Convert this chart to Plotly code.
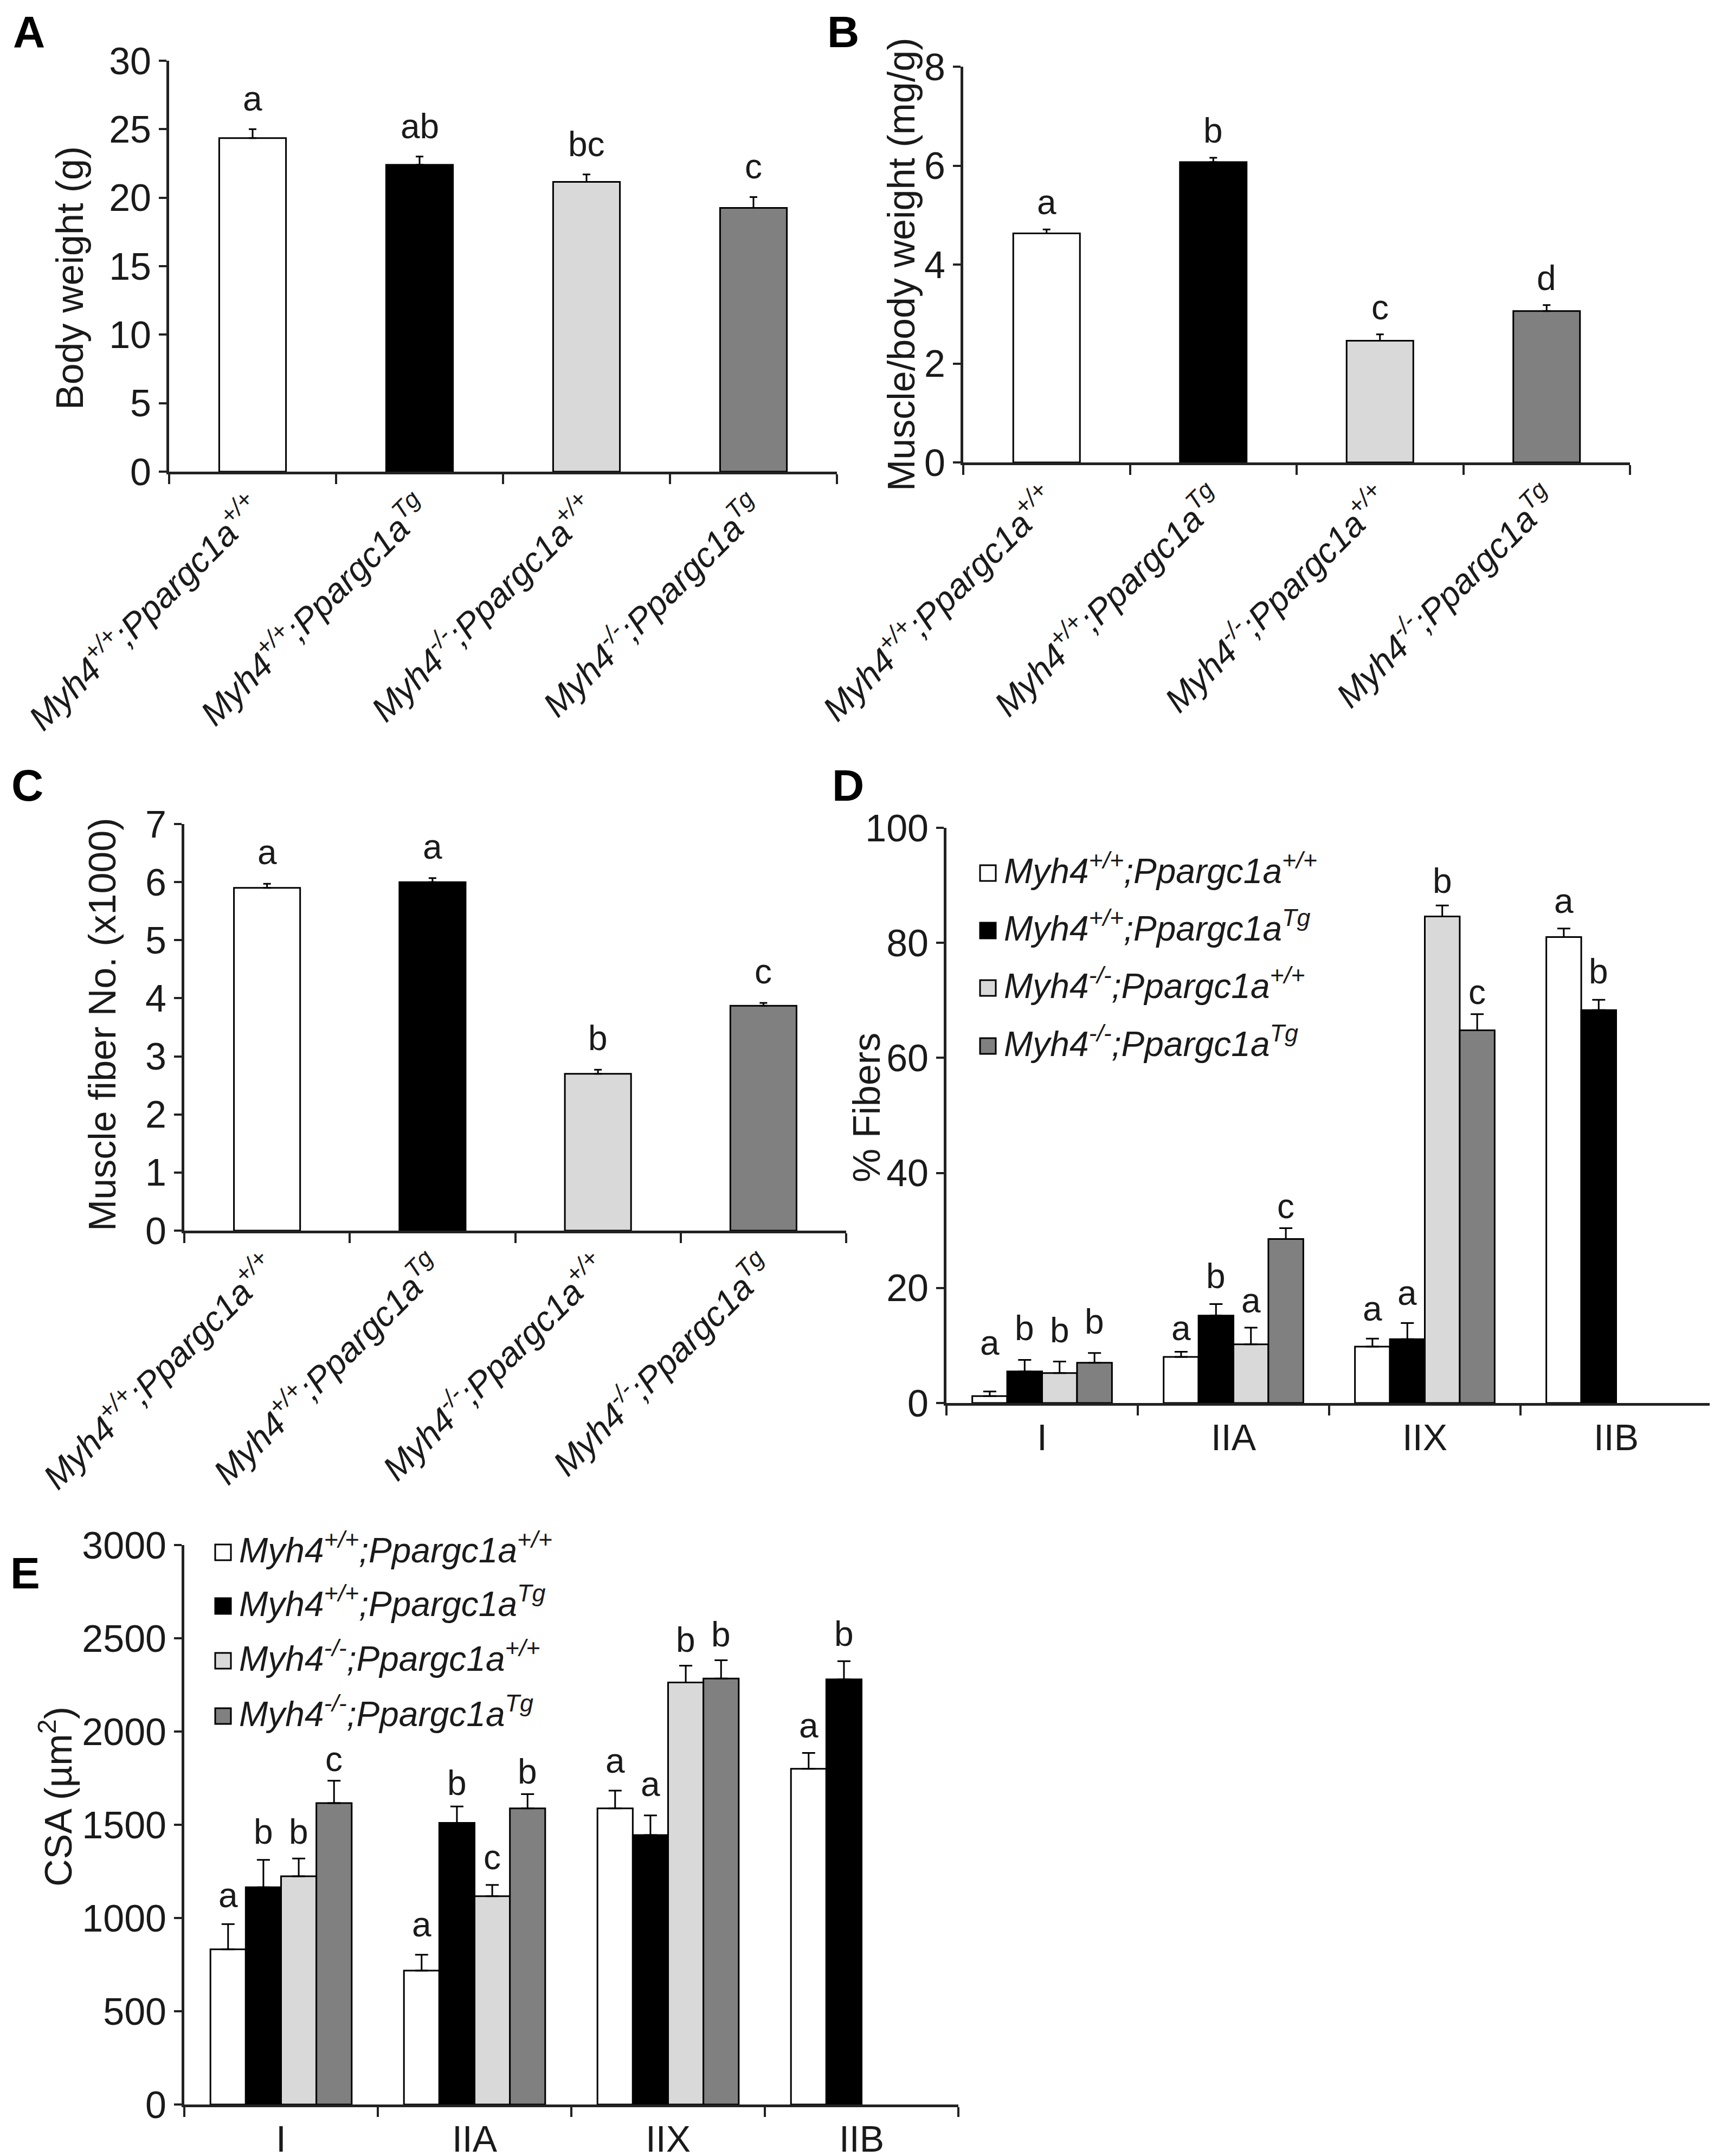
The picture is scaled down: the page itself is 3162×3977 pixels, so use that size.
import plotly.graph_objects as go

W, H = 3162, 3977

# ---- data ----
genotypes = ["<i>Myh4<sup>+/+</sup>;Ppargc1a<sup>+/+</sup></i>",
             "<i>Myh4<sup>+/+</sup>;Ppargc1a<sup>Tg</sup></i>",
             "<i>Myh4<sup>-/-</sup>;Ppargc1a<sup>+/+</sup></i>",
             "<i>Myh4<sup>-/-</sup>;Ppargc1a<sup>Tg</sup></i>"]
fiber_types = ["I", "IIA", "IIX", "IIB"]

body_weight = [24.35, 22.4, 21.15, 19.25]
body_weight_err = [0.65, 0.6, 0.55, 0.8]
body_weight_letters = ["a", "ab", "bc", "c"]

muscle_ratio = [4.63, 6.07, 2.46, 3.06]
muscle_ratio_err = [0.08, 0.09, 0.13, 0.12]
muscle_ratio_letters = ["a", "b", "c", "d"]

fiber_no = [5.9, 6.0, 2.7, 3.87]
fiber_no_err = [0.07, 0.07, 0.07, 0.05]
fiber_no_letters = ["a", "a", "b", "c"]

# % fibers, one list per genotype over fiber_types
pct_wt = [1.2, 8.0, 9.8, 81.0]
pct_wt_err = [0.8, 0.9, 1.4, 1.5]
pct_tg = [5.5, 15.2, 11.1, 68.3]
pct_tg_err = [2.0, 2.0, 2.8, 1.8]
pct_ko = [5.2, 10.2, 84.6, None]
pct_ko_err = [2.0, 2.9, 1.9, None]
pct_kotg = [7.0, 28.5, 64.8, None]
pct_kotg_err = [1.7, 1.9, 2.8, None]
pct_letters = [["a", "a", "a", "a"], ["b", "b", "a", "b"],
               ["b", "a", "b", None], ["b", "c", "c", None]]

# CSA (um2)
csa_wt = [832, 718, 1588, 1800]
csa_wt_err = [135, 85, 95, 85]
csa_tg = [1165, 1510, 1445, 2280]
csa_tg_err = [147, 88, 105, 97]
csa_ko = [1224, 1117, 2263, None]
csa_ko_err = [95, 60, 90, None]
csa_kotg = [1616, 1588, 2284, None]
csa_kotg_err = [120, 76, 98, None]
csa_letters = [["a", "a", "a", "a"], ["b", "b", "a", "b"],
               ["b", "c", "b", None], ["c", "b", "b", None]]

bar_colors = ["#ffffff", "#000000", "#d9d9d9", "#808080"]

FONT = "Liberation Sans"
TXT = "#1a1a1a"
LINE = "#222222"


def px_x(x):
    return x / W


def px_y(y):
    return 1 - y / H


# panel boxes in pixels: (left, right, top, zero-line)
boxes = {
    "A": (304, 1536, 104, 862),
    "B": (1769, 2999, 115, 845),
    "C": (332, 1553, 1512, 2262),
    "D": (1738, 3150, 1519, 2580),
    "E": (332, 1760, 2842, 3874),
}

fig = go.Figure()

# ---- single bar panels A, B, C ----
simple = [("A", "x", "y", body_weight, body_weight_err, body_weight_letters, 18),
          ("B", "x2", "y2", muscle_ratio, muscle_ratio_err, muscle_ratio_letters, 12),
          ("C", "x3", "y3", fiber_no, fiber_no_err, fiber_no_letters, 20)]

annotations = []
for name, xa, ya, vals, errs, letters, yshift in simple:
    fig.add_trace(go.Bar(
        x=genotypes, y=vals, xaxis=xa, yaxis=ya, width=0.4,
        marker=dict(color=bar_colors, line=dict(color="#000000", width=3)),
        error_y=dict(type="data", array=errs, arrayminus=[0] * 4, symmetric=False,
                     color="#000000", thickness=3, width=7),
        showlegend=False))
    for i, (v, e, lab) in enumerate(zip(vals, errs, letters)):
        annotations.append(dict(x=i, y=v + e, xref=xa, yref=ya, text=lab,
                                showarrow=False, yanchor="bottom", yshift=yshift,
                                font=dict(family=FONT, size=64, color=TXT)))

# ---- grouped panels D, E ----
group_w = 0.73
slot = group_w / 4
# pixel lift of each letter above its error bar (per genotype, per fiber type)
d_lift = [[52, 6, 17, 13], [20, 14, 18, 14], [20, 12, 7, None], [20, 2, 3, None]]
e_lift = [[15, 18, 17, 13], [14, 5, 20, 12], [11, 13, 10, None], [2, 4, 10, None]]
grouped = [("D", "x4", "y4",
            [pct_wt, pct_tg, pct_ko, pct_kotg],
            [pct_wt_err, pct_tg_err, pct_ko_err, pct_kotg_err], pct_letters, d_lift),
           ("E", "x5", "y5",
            [csa_wt, csa_tg, csa_ko, csa_kotg],
            [csa_wt_err, csa_tg_err, csa_ko_err, csa_kotg_err], csa_letters, e_lift)]

for name, xa, ya, series, errs, letters, lift in grouped:
    for k in range(4):
        fig.add_trace(go.Bar(
            x=fiber_types, y=series[k], xaxis=xa, yaxis=ya,
            marker=dict(color=bar_colors[k], line=dict(color="#000000", width=3)),
            error_y=dict(type="data", array=errs[k],
                         arrayminus=[0 if v is not None else None for v in series[k]],
                         symmetric=False, color="#000000", thickness=3, width=12),
            showlegend=False))
        off = -group_w / 2 + slot * (k + 0.5)
        for i, (v, e, lab) in enumerate(zip(series[k], errs[k], letters[k])):
            if v is None:
                continue
            annotations.append(dict(x=i + off, y=v + e, xref=xa, yref=ya, text=lab,
                                    showarrow=False, yanchor="bottom", yshift=lift[k][i],
                                    font=dict(family=FONT, size=64, color=TXT)))

# ---- legends for D and E (drawn by hand so the swatches match) ----
shapes = []
legend_rows = {"D": (1800, 1842, [1603, 1709, 1815, 1922]),
               "E": (389, 431, [2856, 2955, 3056, 3158])}
for name, (sx, tx, rows) in legend_rows.items():
    for k, yc in enumerate(rows):
        shapes.append(dict(type="rect", xref="paper", yref="paper",
                           x0=px_x(sx), x1=px_x(sx + 29),
                           y0=px_y(yc + 14), y1=px_y(yc - 15),
                           fillcolor=bar_colors[k], line=dict(color="#000000", width=3)))
        annotations.append(dict(x=px_x(tx), y=px_y(yc - 9), xref="paper", yref="paper",
                                text=genotypes[k], showarrow=False,
                                xanchor="left", yanchor="middle",
                                font=dict(family=FONT, size=64, color=TXT)))

# ---- y axis titles ----
ytitles = [("Body weight (g)", 121, 505),
           ("Muscle/body weight (mg/g)", 1655, 480),
           ("Muscle fiber No. (x1000)", 181, 1882),
           ("% Fibers", 1591, 2035),
           ("CSA (µm<sup>2</sup>)", 95, 3306)]
for text, x, y in ytitles:
    annotations.append(dict(x=px_x(x), y=px_y(y), xref="paper", yref="paper",
                            text=text, textangle=-90, showarrow=False,
                            xanchor="center", yanchor="middle",
                            font=dict(family=FONT, size=70, color=TXT)))

# ---- panel letters ----
panel_letters = [("A", 45, 50), ("B", 1547, 50), ("C", 42, 1440),
                 ("D", 1556, 1440), ("E", 38, 2893)]
for text, x, y in panel_letters:
    annotations.append(dict(x=px_x(x), y=px_y(y), xref="paper", yref="paper",
                            text="<b>" + text + "</b>", showarrow=False,
                            xanchor="center", yanchor="middle",
                            font=dict(family=FONT, size=82, color="#000000")))

# ---- axes ----
base = dict(showline=True, linecolor=LINE, linewidth=5, ticks="outside",
            tickcolor=LINE, tickwidth=4, showgrid=False, zeroline=False,
            fixedrange=True, automargin=False)

layout_axes = {}
ranges = {"A": (30, 5), "B": (8, 2), "C": (7, 1), "D": (100, 20), "E": (3000, 500)}
names = ["A", "B", "C", "D", "E"]
for n, name in enumerate(names):
    l, r, t, b = boxes[name]
    sfx = "" if n == 0 else str(n + 1)
    xaxis = dict(base, domain=[px_x(l), px_x(r)], anchor="y" + sfx,
                 type="category", range=[-0.5, 3.5], tickson="boundaries",
                 ticklen=18)
    if name in ("A", "B", "C"):
        xaxis.update(tickangle=-45, tickfont=dict(family=FONT, size=64, color=TXT))
    else:
        xaxis.update(tickangle=0, tickfont=dict(family=FONT, size=68, color=TXT))
    top, dt = ranges[name]
    yaxis = dict(base, domain=[px_y(b), px_y(t)], anchor="x" + sfx,
                 range=[0, top], dtick=dt, tick0=0, ticklen=14,
                 tickfont=dict(family=FONT, size=70, color=TXT))
    layout_axes["xaxis" + sfx] = xaxis
    layout_axes["yaxis" + sfx] = yaxis

fig.update_layout(
    width=W, height=H,
    margin=dict(l=0, r=0, t=0, b=0, autoexpand=False),
    paper_bgcolor="white", plot_bgcolor="white",
    barmode="group", bargap=1 - group_w, bargroupgap=0,
    showlegend=False,
    font=dict(family=FONT, color=TXT),
    annotations=annotations,
    shapes=shapes,
    **layout_axes)

fig.write_html("out.html")
